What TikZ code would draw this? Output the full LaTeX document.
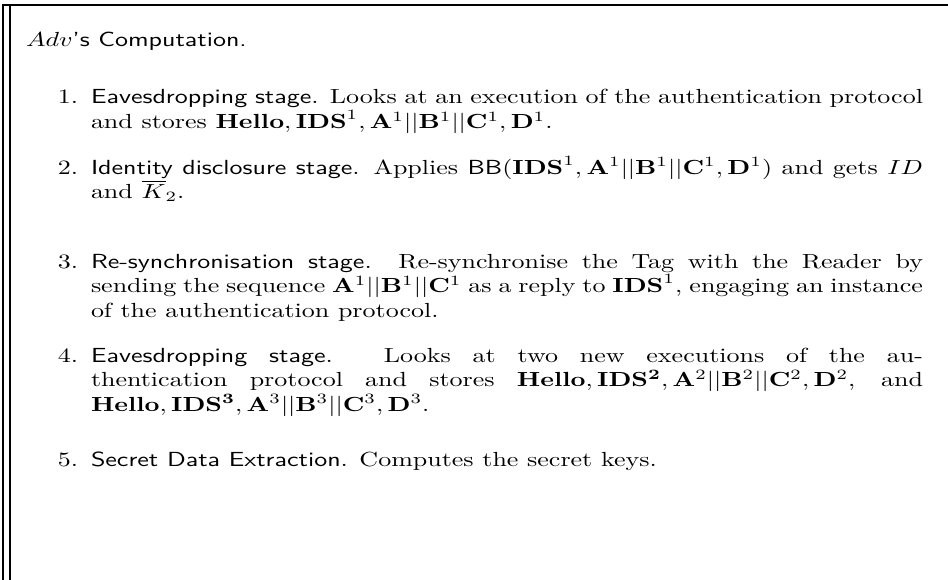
\documentclass[tikz,border=0pt]{standalone}
\usepackage{graphicx}
\newcommand{\myhs}{1.274}
\newcommand{\mytw}{320pt}
\newcommand{\jline}[1]{\scalebox{\myhs}[1]{\hbox to \mytw{#1}}}
\newcommand{\nline}[1]{\scalebox{\myhs}[1]{#1}}
\tikzset{
  frameline/.style={line width=0.75pt, black},
  innerline/.style={line width=0.5pt, black},
  txt/.style={anchor=base west, inner sep=0pt, outer sep=0pt},
  lbl/.style={anchor=base east, inner sep=0pt, outer sep=0pt},
}
\begin{document}
\begin{tikzpicture}[x=0.49pt, y=-0.49pt]
\useasboundingbox (0,0) rectangle (948,580);
% frame
\draw[frameline] (3,580) -- (3,5) -- (948,5);
\draw[innerline] (10,5) -- (10,580);
% header
\node[txt] (hdr) at (26,47) {\nline{$Adv$\textsf{'s Computation.}}};
% item 1
\node[lbl] (n1) at (78,104) {\nline{1.}};
\node[txt] (i1a) at (91,104) {\jline{\textsf{Eavesdropping stage}. Looks at an execution of the authentication protocol}};
\node[txt] (i1b) at (91,128.5) {\jline{and stores $\mathbf{Hello}, \mathbf{IDS}^1, \mathbf{A}^1||\mathbf{B}^1||\mathbf{C}^1, \mathbf{D}^1$.\hfil}};
% item 2
\node[lbl] (n2) at (78,174) {\nline{2.}};
\node[txt] (i2a) at (91,174) {\jline{\textsf{Identity disclosure stage}. Applies \textsf{BB}$(\mathbf{IDS}^1, \mathbf{A}^1||\mathbf{B}^1||\mathbf{C}^1, \mathbf{D}^1)$ and gets $ID$}};
\node[txt] (i2b) at (91,198.5) {\nline{and $\overline{K}_2$.}};
% item 3
\node[lbl] (n3) at (78,268) {\nline{3.}};
\node[txt] (i3a) at (91,268) {\jline{\textsf{Re-synchronisation stage}. Re-synchronise the Tag with the Reader by}};
\node[txt] (i3b) at (91,292.5) {\jline{sending the sequence $\mathbf{A}^1||\mathbf{B}^1||\mathbf{C}^1$ as a reply to $\mathbf{IDS}^1$, engaging an instance}};
\node[txt] (i3c) at (91,317) {\nline{of the authentication protocol.}};
% item 4
\node[lbl] (n4) at (78,362) {\nline{4.}};
\node[txt] (i4a) at (91,362) {\jline{\textsf{Eavesdropping stage}. Looks at two new executions of the au-}};
\node[txt] (i4b) at (91,386.5) {\jline{thentication protocol and stores $\mathbf{Hello}, \mathbf{IDS^2}, \mathbf{A}^2||\mathbf{B}^2||\mathbf{C}^2, \mathbf{D}^2$, and}};
\node[txt] (i4c) at (91,411) {\nline{$\mathbf{Hello}, \mathbf{IDS^3}, \mathbf{A}^3||\mathbf{B}^3||\mathbf{C}^3, \mathbf{D}^3$.}};
% item 5
\node[lbl] (n5) at (78,466) {\nline{5.}};
\node[txt] (i5a) at (91,466) {\nline{\textsf{Secret Data Extraction}. Computes the secret keys.}};
\end{tikzpicture}
\end{document}
